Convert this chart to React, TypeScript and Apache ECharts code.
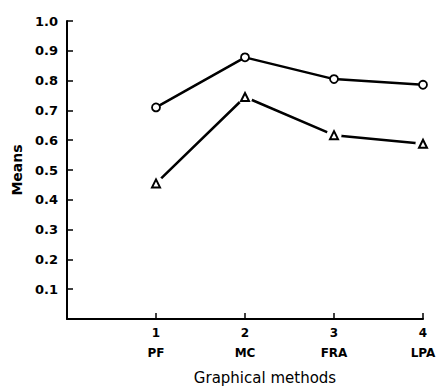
import React, { useEffect, useRef } from "react";
import * as echarts from "echarts";

const methodIndex = [1, 2, 3, 4];
const methodNames = ["PF", "MC", "FRA", "LPA"];
const circleMeans = [0.71, 0.878, 0.805, 0.786];
const triangleMeans = [0.455, 0.745, 0.617, 0.588];
const yTicks = [0, 0.1, 0.2, 0.3, 0.4, 0.5, 0.6, 0.7, 0.8, 0.9, 1.0];

export default function App() {
  const ref = useRef<HTMLDivElement>(null);
  useEffect(() => {
    if (!ref.current) return;
    const chart = echarts.init(ref.current, null, { renderer: "svg" });
    const circleData = methodIndex.map((x, i) => [x, circleMeans[i]]);
    const triData = methodIndex.map((x, i) => [x, triangleMeans[i]]);
    const font = "DejaVu Sans";
    chart.setOption({
      animation: false,
      backgroundColor: "#fff",
      grid: { left: 67, right: 16, top: 21, bottom: 66, containLabel: false },
      xAxis: {
        type: "value",
        min: 0,
        max: 4,
        interval: 1,
        splitLine: { show: false },
        axisLine: { show: true, lineStyle: { color: "#000", width: 2 } },
        axisTick: { show: true, inside: true, length: 6, lineStyle: { color: "#000", width: 1.5 } },
        axisLabel: {
          color: "#000",
          fontFamily: font,
          fontWeight: "bold",
          fontSize: 12,
          lineHeight: 20,
          margin: 4,
          formatter: (v: number) => {
            const i = methodIndex.indexOf(v);
            return i < 0 ? "" : `${v}\n${methodNames[i]}`;
          },
        },
        name: "Graphical methods",
        nameLocation: "middle",
        nameGap: 51,
        nameTextStyle: {
          color: "#000",
          fontFamily: font,
          fontSize: 15,
          padding: [0, 0, 0, 40],
        },
      },
      yAxis: {
        type: "value",
        min: 0,
        max: 1,
        interval: 0.1,
        splitLine: { show: false },
        axisLine: { show: true, lineStyle: { color: "#000", width: 2 } },
        axisTick: { show: true, inside: true, length: 6, lineStyle: { color: "#000", width: 1.5 } },
        axisLabel: {
          color: "#000",
          fontFamily: font,
          fontWeight: "bold",
          fontSize: 13,
          margin: 9,
          formatter: (v: number) => {
            const t = yTicks.find((y) => Math.abs(y - v) < 1e-6);
            if (t === undefined || t === 0) return "";
            return t.toFixed(1);
          },
        },
        name: "Means",
        nameLocation: "middle",
        nameGap: 42,
        nameTextStyle: {
          color: "#000",
          fontFamily: font,
          fontWeight: "bold",
          fontSize: 14,
        },
      },
      series: [
        {
          type: "line",
          data: circleData,
          symbol: "circle",
          symbolSize: 8,
          lineStyle: { color: "#000", width: 2.5 },
          itemStyle: { color: "#fff", borderColor: "#000", borderWidth: 1.8, opacity: 1 },
          z: 3,
        },
        {
          type: "line",
          data: triData,
          symbol: "none",
          lineStyle: { color: "#000", width: 2.5 },
          z: 2,
        },
        {
          type: "scatter",
          data: triData,
          symbol: "circle",
          symbolSize: 15,
          itemStyle: { color: "#fff", borderWidth: 0, opacity: 1 },
          z: 4,
        },
        {
          type: "scatter",
          data: triData,
          symbol: "triangle",
          symbolSize: 8,
          itemStyle: { color: "#fff", borderColor: "#000", borderWidth: 2, opacity: 1 },
          z: 5,
        },
      ],
    });
    return () => chart.dispose();
  }, []);
  return (
    <div
      ref={ref}
      style={{ position: "fixed", left: 0, top: 0, width: 439, height: 390 }}
    />
  );
}
